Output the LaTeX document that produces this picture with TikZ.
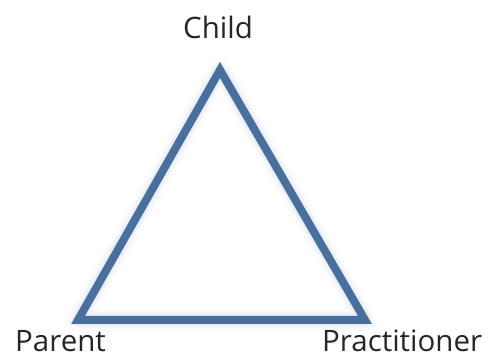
\documentclass[tikz,border=0pt]{standalone}
\usepackage{fontspec}
\setmainfont{Open Sans}
\definecolor{edgeblue}{RGB}{72,112,158}
\definecolor{haze}{RGB}{150,170,195}
\begin{document}
\begin{tikzpicture}[x=1pt,y=1pt,
  label/.style={inner sep=0pt,font=\fontsize{29.5}{32}\selectfont,text=black!85},
  side/.style={draw=edgeblue,line width=8pt,line join=miter},
  glow/.style={draw=haze,line join=round}]
  \useasboundingbox (0,0) rectangle (488,358);
  \coordinate (top) at (220,288);
  \coordinate (left) at (78,38);
  \coordinate (right) at (365,38);
  % soft shadow under the triangle
  \foreach \w/\o in {22/0.05,16/0.07,12/0.09}{
    \draw[glow,line width=\w pt,opacity=\o,shift={(2,-2)}] (top) -- (left) -- (right) -- cycle;
  }
  \draw[side] (top) -- (left) -- (right) -- cycle;
  \node[label,anchor=base] (child) at (218,319) {Child};
  \node[label,anchor=base west] (parent) at (15,6) {Parent};
  \node[label,anchor=base west] (practitioner) at (322,6) {Practitioner};
\end{tikzpicture}
\end{document}
